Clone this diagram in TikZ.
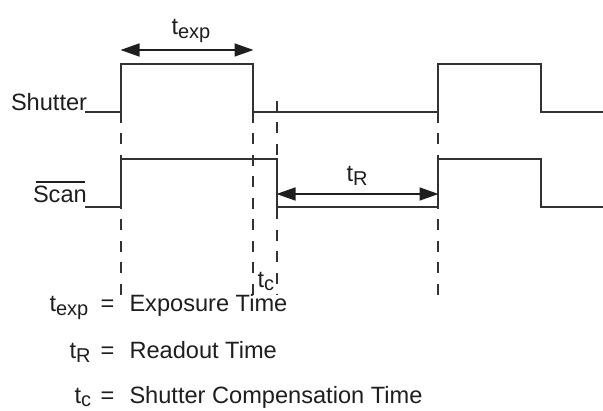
\documentclass[tikz,border=0pt]{standalone}
\usepackage{fontspec}
\setmainfont{Liberation Sans}
\usetikzlibrary{arrows.meta}
\definecolor{wave}{RGB}{50,50,50}
\definecolor{ink}{RGB}{30,30,30}
\newcommand{\lsub}[1]{\raisebox{-4pt}{\fontsize{20}{21}\selectfont #1}}
\newcommand{\lsubs}[1]{\raisebox{-3pt}{\fontsize{20}{21}\selectfont #1}}
\tikzset{
  wavef/.style={draw=wave, line width=1.3pt, line join=miter},
  guide/.style={draw=wave, line width=1.2pt, dash pattern=on 11pt off 10.5pt},
  dim/.style={draw=ink, line width=1.6pt, {Triangle[length=19pt,width=13pt]}-{Triangle[length=19pt,width=13pt]}, shorten <=-0.5pt, shorten >=-0.5pt},
  lbl/.style={inner sep=0pt, outer sep=0pt, text=ink, font=\fontsize{23.6}{26}\selectfont}
}
\begin{document}
\begin{tikzpicture}[x=1pt,y=-1pt]
\useasboundingbox (0,0) rectangle (603,411);
% guides
\draw[guide] (121,112) -- (121,295);
\draw[guide] (253,112) -- (253,295);
\draw[guide] (277,101) -- (277,295);
\draw[guide] (438,112) -- (438,295);
% shutter waveform
\draw[wavef] (85,112) -- (121,112) -- (121,64) -- (253,64) -- (253,112) -- (438,112) -- (438,64) -- (541,64) -- (541,112) -- (603,112);
% scan waveform
\draw[wavef] (85,207) -- (121,207) -- (121,159) -- (277,159) -- (277,207) -- (438,207) -- (438,159) -- (541,159) -- (541,207) -- (603,207);
% labels
\node[lbl, anchor=base west] (shut) at (11,111) {Shutter};
\node[lbl, anchor=base west] (scan) at (33,203) {Scan};
\draw[draw=ink, line width=1.3pt] ([xshift=2.5pt,yshift=4.5pt]scan.north west) -- ([xshift=-2pt,yshift=4.5pt]scan.north east);
% dimension arrows
\coordinate (ea) at (121,50);
\coordinate (eb) at (253,50);
\draw[dim] (ea) -- (eb);
\node[lbl, anchor=base west] (texp) at (171.5,35) {t\lsub{exp}};
\coordinate (ra) at (277,194);
\coordinate (rb) at (438,194);
\draw[dim] (ra) -- (rb);
\node[lbl, anchor=base west] (tr) at (346.5,182) {t\lsub{R}};
\node[lbl, anchor=base west] (tc) at (257.5,288) {t\lsubs{c}};
% legend
\node[lbl, anchor=base west] (l1s) at (49.5,312) {t\lsub{exp}};
\node[lbl, anchor=base] (l1e) at (107.5,312) {=};
\node[lbl, anchor=base west] (l1t) at (129.5,312) {Exposure Time};
\node[lbl, anchor=base west] (l2s) at (69.5,359) {t\lsub{R}};
\node[lbl, anchor=base] (l2e) at (107.5,359) {=};
\node[lbl, anchor=base west] (l2t) at (129.5,359) {Readout Time};
\node[lbl, anchor=base west] (l3s) at (74.5,404) {t\lsubs{c}};
\node[lbl, anchor=base] (l3e) at (107.5,404) {=};
\node[lbl, anchor=base west] (l3t) at (129.5,404) {Shutter Compensation Time};
\end{tikzpicture}
\end{document}
